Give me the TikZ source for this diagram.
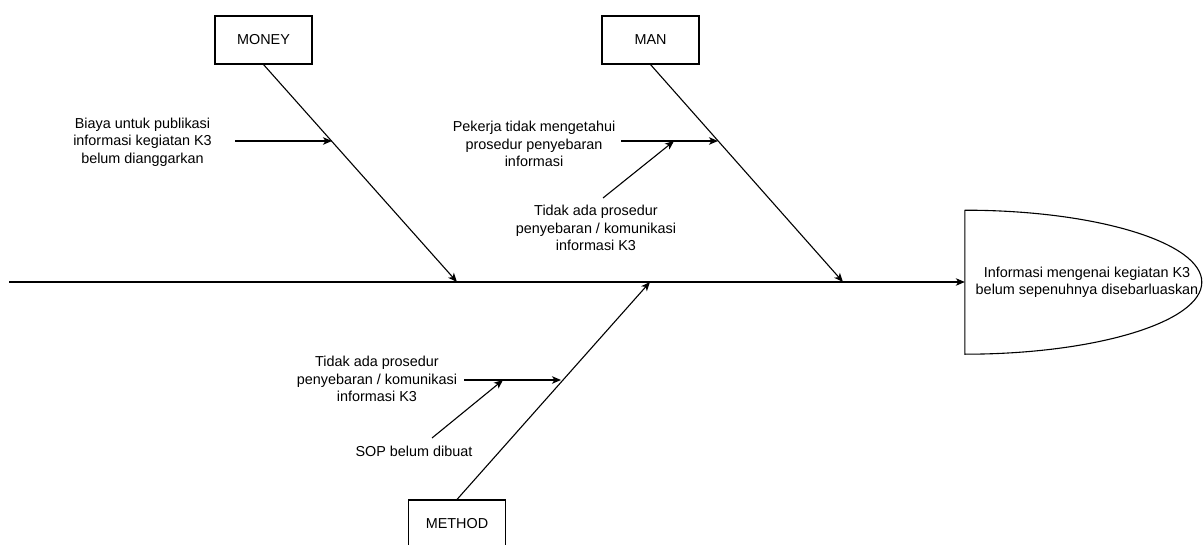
\documentclass[tikz,border=0pt]{standalone}
\usepackage{fontspec}
\setmainfont{Liberation Sans}
\usetikzlibrary{arrows.meta,calc}
\begin{document}
\begin{tikzpicture}[x=1pt,y=-1pt,
  line/.style={draw=black,line width=1.1pt},
  arr/.style={line,-{Stealth[length=9pt,width=7.5pt,inset=2.5pt]}},
  catbox/.style={draw=black,line width=1.1pt,fill=white,minimum width=97pt,minimum height=48pt,inner sep=0pt,font=\fontsize{14.4}{17.3}\selectfont},
  lbl/.style={align=center,inner sep=0pt,font=\fontsize{14.4}{17.4}\selectfont}]
\useasboundingbox (0,0) rectangle (1204,545);
\fill[white] (0,0) rectangle (1204,545);

% head
\node[minimum width=244pt,minimum height=144pt,inner sep=0pt] (head) at (1087,282) {};
\draw[line] (head.north west) -- (head.south west) arc[start angle=90,end angle=-90,x radius=237,y radius=72] -- cycle;
\node[lbl] (headtxt) at (1087,282) {Informasi mengenai kegiatan K3\\belum sepenuhnya disebarluaskan};

% spine
\coordinate (tail) at (9,282);
\draw[arr] (tail) -- (head.west);

% category boxes
\node[catbox] (money) at (263.5,40) {MONEY};
\node[catbox] (man) at (650.5,40) {MAN};
\node[catbox] (method) at (457,524) {METHOD};

% spine points
\coordinate (sm) at (457,282);
\coordinate (sn) at (843,282);
\coordinate (st) at (650,282);
\draw[arr] (money.south) -- (sm);
\draw[arr] (man.south) -- (sn);
\draw[arr] (method.north) -- (st);

% MONEY causes
\node[lbl] (biaya) at (142.5,142) {Biaya untuk publikasi\\informasi kegiatan K3\\belum dianggarkan};
\coordinate (b0) at (235,141);
\coordinate (b1) at (332,141);
\draw[arr] (b0) -- (b1);

% MAN causes
\node[lbl] (pekerja) at (534,144) {Pekerja tidak mengetahui\\prosedur penyebaran\\informasi};
\coordinate (p0) at (621,141);
\coordinate (p1) at (718,141);
\coordinate (p2) at (674,141);
\draw[arr] (p0) -- (p1);
\node[lbl] (tidak1) at (596,228) {Tidak ada prosedur\\penyebaran / komunikasi\\informasi K3};
\coordinate (t0) at (603,198);
\draw[arr] (t0) -- (p2);

% METHOD causes
\node[lbl] (tidak2) at (377,379) {Tidak ada prosedur\\penyebaran / komunikasi\\informasi K3};
\coordinate (q0) at (464,380);
\coordinate (q1) at (561,380);
\coordinate (q2) at (503,380);
\draw[arr] (q0) -- (q1);
\node[lbl] (sop) at (414,451) {SOP belum dibuat};
\coordinate (s0) at (432,438);
\draw[arr] (s0) -- (q2);
\end{tikzpicture}
\end{document}
